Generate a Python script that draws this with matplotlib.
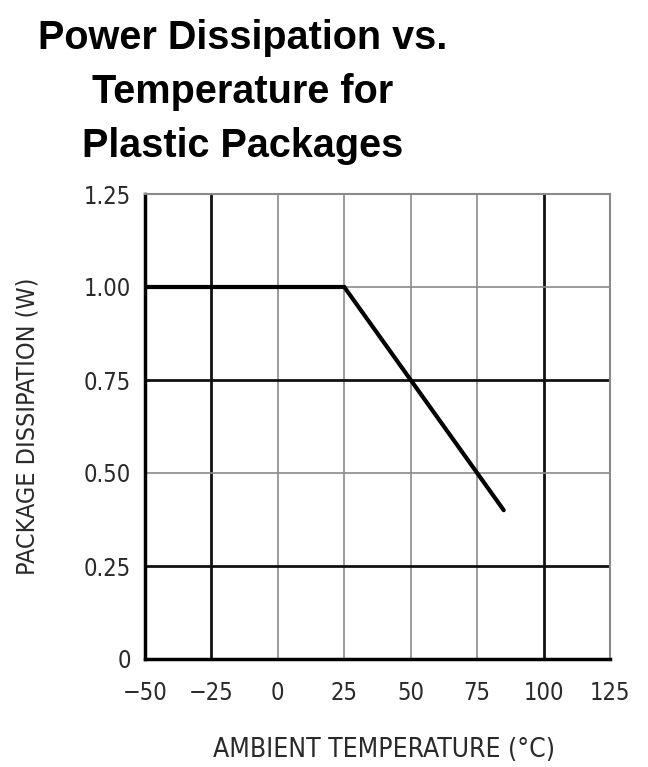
"""Power dissipation vs. ambient temperature derating curve for plastic packages."""
import matplotlib

matplotlib.use("Agg")
import matplotlib.pyplot as plt  # noqa: E402

# derating curve (degC, W)
temp_c = [-50, 25, 85]
power_w = [1.00, 1.00, 0.40]

x_ticks = [-50, -25, 0, 25, 50, 75, 100, 125]
x_labels = ["\u221250", "\u221225", "0", "25", "50", "75", "100", "125"]
y_ticks = [0, 0.25, 0.50, 0.75, 1.00, 1.25]
y_labels = ["0", "0.25", "0.50", "0.75", "1.00", "1.25"]
heavy_x = [-25, 100]
heavy_y = [0.25, 0.75]

LABEL_KW = dict(family="DejaVu Sans", stretch="condensed", color="#2a2a2a")

fig = plt.figure(figsize=(6.48, 7.67), dpi=100)
ax = fig.add_axes([145 / 648, 108 / 767, 465 / 648, 465 / 767])

for xv in x_ticks:
    heavy = xv in heavy_x
    ax.axvline(xv, color="#111111" if heavy else "#8a8a8a",
               lw=2.0 if heavy else 1.2, zorder=1)
for yv in y_ticks:
    heavy = yv in heavy_y
    ax.axhline(yv, color="#111111" if heavy else "#8a8a8a",
               lw=2.0 if heavy else 1.2, zorder=1)

ax.plot(temp_c, power_w, color="black", lw=3.0, solid_capstyle="round",
        solid_joinstyle="miter", zorder=3)

ax.set_xlim(-50, 125)
ax.set_ylim(0, 1.25)
ax.set_xticks(x_ticks)
ax.set_xticklabels(x_labels, fontsize=17, **LABEL_KW)
ax.set_yticks(y_ticks)
ax.set_yticklabels(y_labels, fontsize=17, **LABEL_KW)
ax.tick_params(length=0, pad=10)
ax.tick_params(axis="x", pad=16)

for side in ("left", "bottom"):
    ax.spines[side].set_color("black")
    ax.spines[side].set_linewidth(2.5)
for side in ("top", "right"):
    ax.spines[side].set_color("#8a8a8a")
    ax.spines[side].set_linewidth(1.5)

ax.set_xlabel("AMBIENT TEMPERATURE (\u00b0C)", fontsize=19, **LABEL_KW)
ax.xaxis.set_label_coords(0.513, -0.168)
ax.set_ylabel("PACKAGE DISSIPATION (W)", fontsize=18, labelpad=32,
              **LABEL_KW)

fig.text(243 / 648, 1 - 92 / 767,
         "Power Dissipation vs.\nTemperature for\nPlastic Packages",
         ha="center", va="center", family="Liberation Sans", weight="bold",
         fontsize=28.5, linespacing=1.52)

fig.savefig("out.png", dpi=100)
